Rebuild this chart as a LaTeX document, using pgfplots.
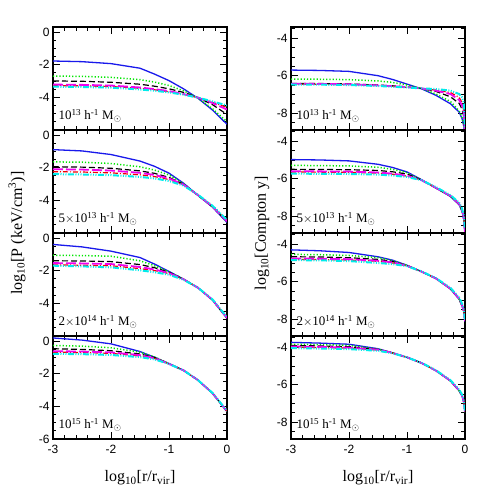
\documentclass[border=0pt]{standalone}
\usepackage{fontspec}
\setmainfont{Liberation Serif}
\setsansfont{Liberation Sans}
\usepackage{pgfplots}
\pgfplotsset{compat=1.18}

\definecolor{cblue}{RGB}{25,25,235}
\definecolor{cgreen}{RGB}{0,230,0}
\definecolor{cred}{RGB}{240,0,0}
\definecolor{cmag}{RGB}{240,0,240}
\definecolor{ccyan}{RGB}{0,235,235}

\pgfplotsset{
  pan/.style={
    scale only axis, width=174pt, height=103pt, anchor=south west,
    xmin=-3, xmax=0, xtick={-3,-2,-1,0}, xticklabels={},
    minor xtick={-2.8,-2.6,-2.4,-2.2,-1.8,-1.6,-1.4,-1.2,-0.8,-0.6,-0.4,-0.2},
    tick align=inside, major tick length=7pt, minor tick length=3.5pt,
    axis line style={line width=1.1pt},
    every tick/.style={black, line width=0.8pt},
    tick label style={font=\fontsize{12}{14}\sffamily},
    xticklabel style={yshift=-3pt},
    xtick pos=both, ytick pos=both,
  },
  lp/.style={pan, ymin=-6, ymax=0.3, ytick={-6,-4,-2,0}, yticklabels={,-4,-2,0},
    minor ytick={-5.5,-5,-4.5,-3.5,-3,-2.5,-1.5,-1,-0.5}},
  rp/.style={pan, ymin=-8.9, ymax=-3.4, ytick={-8,-6,-4}, yticklabels={-8,-6,-4},
    minor ytick={-8.5,-7.5,-7,-6.5,-5.5,-5,-4.5,-3.5}},
  bot/.style={xticklabels={-3,-2,-1,0}},
  sb/.style={cblue, line width=1.3pt, solid},
  sg/.style={cgreen, line width=1.5pt, dash pattern=on 1.2pt off 2pt},
  sk/.style={black, line width=1.2pt, dash pattern=on 6pt off 3pt},
  sr/.style={cred, line width=1.2pt, dash pattern=on 5pt off 2pt on 1pt off 2pt},
  sm/.style={cmag, line width=1.8pt, dash pattern=on 10pt off 3pt},
  sc/.style={ccyan, line width=2pt, dash pattern=on 6pt off 1.5pt on 1pt off 1.5pt on 1pt off 1.5pt on 1pt off 1.5pt},
}
\newcommand{\lab}[1]{\node[anchor=south west, font=\fontsize{13}{15}\selectfont, inner sep=1pt] at (rel axis cs:0.025,0.06) {#1};}

\begin{document}
\begin{tikzpicture}
\useasboundingbox (0,0) rectangle (491pt,491pt);

% ---------- left column: pressure ----------
\begin{axis}[lp, at={(53pt,361pt)}]
\addplot[sb] coordinates {(-3,-1.78) (-2.5,-1.82) (-2,-1.94) (-1.5,-2.22) (-1.25,-2.58) (-1,-2.98) (-0.75,-3.48) (-0.5,-4.06) (-0.25,-4.78) (0,-5.65)};
\addplot[sg] coordinates {(-3,-2.7) (-2.5,-2.72) (-2,-2.78) (-1.5,-2.92) (-1.25,-3.07) (-1,-3.28) (-0.75,-3.6) (-0.5,-4.05) (-0.25,-4.7) (0,-5.5)};
\addplot[sk] coordinates {(-3,-3.0) (-2.5,-3.02) (-2,-3.08) (-1.5,-3.2) (-1.25,-3.32) (-1,-3.48) (-0.75,-3.7) (-0.5,-4.02) (-0.25,-4.45) (0,-5.05)};
\addplot[sr] coordinates {(-3,-3.28) (-2.5,-3.3) (-2,-3.34) (-1.5,-3.45) (-1.25,-3.54) (-1,-3.66) (-0.75,-3.82) (-0.5,-4.02) (-0.25,-4.3) (0,-4.62)};
\addplot[sm] coordinates {(-3,-3.22) (-2.5,-3.24) (-2,-3.28) (-1.5,-3.4) (-1.25,-3.5) (-1,-3.62) (-0.75,-3.8) (-0.5,-4.02) (-0.25,-4.35) (0,-4.75)};
\addplot[sc] coordinates {(-3,-3.35) (-2.5,-3.37) (-2,-3.41) (-1.5,-3.52) (-1.25,-3.6) (-1,-3.7) (-0.75,-3.84) (-0.5,-4.02) (-0.25,-4.25) (0,-4.5)};
\lab{10\textsuperscript{13} h\textsuperscript{-1} M\textsubscript{$\odot$}}
\end{axis}

\begin{axis}[lp, at={(53pt,258pt)}]
\addplot[sb] coordinates {(-3,-0.9) (-2.5,-0.98) (-2,-1.2) (-1.5,-1.6) (-1.25,-1.92) (-1,-2.34) (-0.75,-2.95) (-0.5,-3.7) (-0.25,-4.42) (0,-5.35)};
\addplot[sg] coordinates {(-3,-1.65) (-2.5,-1.67) (-2,-1.75) (-1.5,-1.95) (-1.25,-2.15) (-1,-2.45) (-0.75,-2.98) (-0.5,-3.7) (-0.25,-4.4) (0,-5.3)};
\addplot[sk] coordinates {(-3,-1.95) (-2.5,-1.97) (-2,-2.04) (-1.5,-2.2) (-1.25,-2.35) (-1,-2.6) (-0.75,-3.02) (-0.5,-3.7) (-0.25,-4.4) (0,-5.3)};
\addplot[sr] coordinates {(-3,-2.25) (-2.5,-2.27) (-2,-2.32) (-1.5,-2.44) (-1.25,-2.55) (-1,-2.73) (-0.75,-3.06) (-0.5,-3.68) (-0.25,-4.36) (0,-5.25)};
\addplot[sm] coordinates {(-3,-2.1) (-2.5,-2.12) (-2,-2.18) (-1.5,-2.32) (-1.25,-2.45) (-1,-2.66) (-0.75,-3.04) (-0.5,-3.68) (-0.25,-4.38) (0,-5.28)};
\addplot[sc] coordinates {(-3,-2.4) (-2.5,-2.42) (-2,-2.46) (-1.5,-2.57) (-1.25,-2.66) (-1,-2.82) (-0.75,-3.1) (-0.5,-3.66) (-0.25,-4.33) (0,-5.2)};
\lab{5$\times$10\textsuperscript{13} h\textsuperscript{-1} M\textsubscript{$\odot$}}
\end{axis}

\begin{axis}[lp, at={(53pt,155pt)}]
\addplot[sb] coordinates {(-3,-0.4) (-2.5,-0.55) (-2,-0.81) (-1.5,-1.2) (-1.25,-1.6) (-1,-2.05) (-0.75,-2.52) (-0.5,-3.05) (-0.25,-3.8) (0,-4.92)};
\addplot[sg] coordinates {(-3,-1.06) (-2.5,-1.08) (-2,-1.12) (-1.5,-1.4) (-1.25,-1.7) (-1,-2.07) (-0.75,-2.52) (-0.5,-3.05) (-0.25,-3.8) (0,-4.9)};
\addplot[sk] coordinates {(-3,-1.4) (-2.5,-1.41) (-2,-1.45) (-1.5,-1.63) (-1.25,-1.82) (-1,-2.1) (-0.75,-2.53) (-0.5,-3.05) (-0.25,-3.8) (0,-4.9)};
\addplot[sr] coordinates {(-3,-1.65) (-2.5,-1.67) (-2,-1.7) (-1.5,-1.88) (-1.25,-2.0) (-1,-2.18) (-0.75,-2.54) (-0.5,-3.05) (-0.25,-3.78) (0,-4.88)};
\addplot[sm] coordinates {(-3,-1.54) (-2.5,-1.56) (-2,-1.6) (-1.5,-1.78) (-1.25,-1.93) (-1,-2.15) (-0.75,-2.53) (-0.5,-3.05) (-0.25,-3.79) (0,-4.89)};
\addplot[sc] coordinates {(-3,-1.7) (-2.5,-1.74) (-2,-1.8) (-1.5,-1.98) (-1.25,-2.1) (-1,-2.25) (-0.75,-2.56) (-0.5,-3.05) (-0.25,-3.76) (0,-4.85)};
\lab{2$\times$10\textsuperscript{14} h\textsuperscript{-1} M\textsubscript{$\odot$}}
\end{axis}

\begin{axis}[lp, bot, at={(53pt,52pt)}, yticklabels={-6,-4,-2,0}]
\addplot[sb] coordinates {(-3,0.18) (-2.5,0.05) (-2,-0.18) (-1.5,-0.65) (-1.25,-1.0) (-1,-1.39) (-0.75,-1.8) (-0.5,-2.4) (-0.25,-3.2) (0,-4.32)};
\addplot[sg] coordinates {(-3,-0.28) (-2.5,-0.32) (-2,-0.42) (-1.5,-0.69) (-1.25,-0.98) (-1,-1.39) (-0.75,-1.8) (-0.5,-2.4) (-0.25,-3.2) (0,-4.32)};
\addplot[sk] coordinates {(-3,-0.48) (-2.5,-0.52) (-2,-0.6) (-1.5,-0.8) (-1.25,-1.02) (-1,-1.39) (-0.75,-1.8) (-0.5,-2.4) (-0.25,-3.2) (0,-4.32)};
\addplot[sr] coordinates {(-3,-0.69) (-2.5,-0.71) (-2,-0.76) (-1.5,-0.92) (-1.25,-1.08) (-1,-1.4) (-0.75,-1.8) (-0.5,-2.4) (-0.25,-3.2) (0,-4.3)};
\addplot[sm] coordinates {(-3,-0.63) (-2.5,-0.65) (-2,-0.7) (-1.5,-0.87) (-1.25,-1.06) (-1,-1.4) (-0.75,-1.8) (-0.5,-2.4) (-0.25,-3.2) (0,-4.31)};
\addplot[sc] coordinates {(-3,-0.79) (-2.5,-0.81) (-2,-0.86) (-1.5,-0.99) (-1.25,-1.13) (-1,-1.41) (-0.75,-1.8) (-0.5,-2.4) (-0.25,-3.18) (0,-4.28)};
\lab{10\textsuperscript{15} h\textsuperscript{-1} M\textsubscript{$\odot$}}
\end{axis}

% ---------- right column: Compton y ----------
\begin{axis}[rp, at={(291pt,361pt)}]
\addplot[sb] coordinates {(-3,-5.7) (-2.5,-5.72) (-2,-5.77) (-1.5,-6.0) (-1.25,-6.2) (-1,-6.45) (-0.75,-6.7) (-0.5,-7.05) (-0.25,-7.5) (-0.1,-7.95) (-0.05,-8.3) (-0.02,-8.7) (0,-9.3)};
\addplot[sg] coordinates {(-3,-6.18) (-2.5,-6.19) (-2,-6.21) (-1.5,-6.28) (-1.25,-6.36) (-1,-6.5) (-0.75,-6.68) (-0.5,-6.98) (-0.25,-7.38) (-0.1,-7.88) (-0.05,-8.25) (-0.02,-8.65) (0,-9.3)};
\addplot[sk] coordinates {(-3,-6.41) (-2.5,-6.42) (-2,-6.44) (-1.5,-6.5) (-1.25,-6.54) (-1,-6.6) (-0.75,-6.68) (-0.5,-6.84) (-0.25,-7.13) (-0.1,-7.48) (-0.05,-7.8) (-0.02,-8.2) (0,-9.2)};
\addplot[sr] coordinates {(-3,-6.45) (-2.5,-6.46) (-2,-6.48) (-1.5,-6.53) (-1.25,-6.57) (-1,-6.62) (-0.75,-6.68) (-0.5,-6.77) (-0.25,-6.9) (-0.1,-7.16) (-0.05,-7.45) (-0.02,-7.9) (0,-9.1)};
\addplot[sm] coordinates {(-3,-6.43) (-2.5,-6.44) (-2,-6.46) (-1.5,-6.52) (-1.25,-6.56) (-1,-6.61) (-0.75,-6.68) (-0.5,-6.8) (-0.25,-6.98) (-0.1,-7.3) (-0.05,-7.6) (-0.02,-8.0) (0,-9.1)};
\addplot[sc] coordinates {(-3,-6.47) (-2.5,-6.48) (-2,-6.5) (-1.5,-6.55) (-1.25,-6.59) (-1,-6.63) (-0.75,-6.68) (-0.5,-6.71) (-0.25,-6.8) (-0.1,-6.98) (-0.05,-7.15) (-0.02,-7.5) (0,-8.8)};
\lab{10\textsuperscript{13} h\textsuperscript{-1} M\textsubscript{$\odot$}}
\end{axis}

\begin{axis}[rp, at={(291pt,258pt)}]
\addplot[sb] coordinates {(-3,-4.98) (-2.5,-5.0) (-2,-5.05) (-1.5,-5.23) (-1.25,-5.4) (-1,-5.64) (-0.75,-6.05) (-0.5,-6.5) (-0.25,-6.95) (-0.1,-7.4) (-0.05,-7.75) (-0.02,-8.2) (0,-8.9)};
\addplot[sg] coordinates {(-3,-5.29) (-2.5,-5.3) (-2,-5.32) (-1.5,-5.39) (-1.25,-5.5) (-1,-5.68) (-0.75,-6.07) (-0.5,-6.5) (-0.25,-6.94) (-0.1,-7.38) (-0.05,-7.72) (-0.02,-8.18) (0,-8.9)};
\addplot[sk] coordinates {(-3,-5.5) (-2.5,-5.51) (-2,-5.52) (-1.5,-5.56) (-1.25,-5.63) (-1,-5.75) (-0.75,-6.07) (-0.5,-6.5) (-0.25,-6.93) (-0.1,-7.36) (-0.05,-7.7) (-0.02,-8.15) (0,-8.85)};
\addplot[sr] coordinates {(-3,-5.64) (-2.5,-5.65) (-2,-5.66) (-1.5,-5.7) (-1.25,-5.76) (-1,-5.86) (-0.75,-6.08) (-0.5,-6.48) (-0.25,-6.91) (-0.1,-7.33) (-0.05,-7.66) (-0.02,-8.1) (0,-8.8)};
\addplot[sm] coordinates {(-3,-5.6) (-2.5,-5.61) (-2,-5.62) (-1.5,-5.67) (-1.25,-5.73) (-1,-5.84) (-0.75,-6.08) (-0.5,-6.49) (-0.25,-6.92) (-0.1,-7.35) (-0.05,-7.68) (-0.02,-8.12) (0,-8.85)};
\addplot[sc] coordinates {(-3,-5.73) (-2.5,-5.74) (-2,-5.75) (-1.5,-5.78) (-1.25,-5.83) (-1,-5.91) (-0.75,-6.08) (-0.5,-6.45) (-0.25,-6.88) (-0.1,-7.28) (-0.05,-7.6) (-0.02,-8.0) (0,-8.7)};
\lab{5$\times$10\textsuperscript{13} h\textsuperscript{-1} M\textsubscript{$\odot$}}
\end{axis}

\begin{axis}[rp, at={(291pt,155pt)}]
\addplot[sb] coordinates {(-3,-4.3) (-2.5,-4.35) (-2,-4.44) (-1.5,-4.67) (-1.25,-4.85) (-1,-5.12) (-0.75,-5.46) (-0.5,-5.83) (-0.25,-6.39) (-0.1,-6.94) (-0.05,-7.3) (-0.02,-7.6) (0,-8.15)};
\addplot[sg] coordinates {(-3,-4.54) (-2.5,-4.56) (-2,-4.6) (-1.5,-4.72) (-1.25,-4.88) (-1,-5.13) (-0.75,-5.46) (-0.5,-5.83) (-0.25,-6.39) (-0.1,-6.94) (-0.05,-7.3) (-0.02,-7.6) (0,-8.15)};
\addplot[sk] coordinates {(-3,-4.67) (-2.5,-4.68) (-2,-4.72) (-1.5,-4.81) (-1.25,-4.92) (-1,-5.14) (-0.75,-5.46) (-0.5,-5.83) (-0.25,-6.38) (-0.1,-6.92) (-0.05,-7.28) (-0.02,-7.58) (0,-8.12)};
\addplot[sr] coordinates {(-3,-4.81) (-2.5,-4.82) (-2,-4.84) (-1.5,-4.91) (-1.25,-5.0) (-1,-5.16) (-0.75,-5.46) (-0.5,-5.83) (-0.25,-6.37) (-0.1,-6.9) (-0.05,-7.25) (-0.02,-7.55) (0,-8.1)};
\addplot[sm] coordinates {(-3,-4.76) (-2.5,-4.77) (-2,-4.8) (-1.5,-4.88) (-1.25,-4.97) (-1,-5.15) (-0.75,-5.46) (-0.5,-5.83) (-0.25,-6.37) (-0.1,-6.91) (-0.05,-7.26) (-0.02,-7.56) (0,-8.1)};
\addplot[sc] coordinates {(-3,-4.85) (-2.5,-4.86) (-2,-4.9) (-1.5,-5.0) (-1.25,-5.06) (-1,-5.17) (-0.75,-5.45) (-0.5,-5.81) (-0.25,-6.33) (-0.1,-6.85) (-0.05,-7.18) (-0.02,-7.5) (0,-8.05)};
\lab{2$\times$10\textsuperscript{14} h\textsuperscript{-1} M\textsubscript{$\odot$}}
\end{axis}

\begin{axis}[rp, bot, at={(291pt,52pt)}]
\addplot[sb] coordinates {(-3,-3.74) (-2.5,-3.78) (-2,-3.84) (-1.5,-4.08) (-1.25,-4.3) (-1,-4.54) (-0.75,-4.84) (-0.5,-5.25) (-0.25,-5.8) (-0.1,-6.33) (-0.05,-6.6) (-0.02,-6.95) (0,-7.47)};
\addplot[sg] coordinates {(-3,-3.84) (-2.5,-3.86) (-2,-3.9) (-1.5,-4.1) (-1.25,-4.3) (-1,-4.54) (-0.75,-4.84) (-0.5,-5.25) (-0.25,-5.8) (-0.1,-6.33) (-0.05,-6.6) (-0.02,-6.95) (0,-7.47)};
\addplot[sk] coordinates {(-3,-3.91) (-2.5,-3.93) (-2,-3.97) (-1.5,-4.12) (-1.25,-4.3) (-1,-4.54) (-0.75,-4.84) (-0.5,-5.25) (-0.25,-5.8) (-0.1,-6.32) (-0.05,-6.59) (-0.02,-6.94) (0,-7.45)};
\addplot[sr] coordinates {(-3,-4.0) (-2.5,-4.02) (-2,-4.05) (-1.5,-4.15) (-1.25,-4.31) (-1,-4.54) (-0.75,-4.84) (-0.5,-5.25) (-0.25,-5.79) (-0.1,-6.31) (-0.05,-6.58) (-0.02,-6.92) (0,-7.43)};
\addplot[sm] coordinates {(-3,-3.96) (-2.5,-3.98) (-2,-4.02) (-1.5,-4.13) (-1.25,-4.3) (-1,-4.54) (-0.75,-4.84) (-0.5,-5.25) (-0.25,-5.79) (-0.1,-6.31) (-0.05,-6.58) (-0.02,-6.93) (0,-7.44)};
\addplot[sc] coordinates {(-3,-4.05) (-2.5,-4.07) (-2,-4.1) (-1.5,-4.19) (-1.25,-4.32) (-1,-4.54) (-0.75,-4.83) (-0.5,-5.23) (-0.25,-5.76) (-0.1,-6.27) (-0.05,-6.53) (-0.02,-6.88) (0,-7.4)};
\lab{10\textsuperscript{15} h\textsuperscript{-1} M\textsubscript{$\odot$}}
\end{axis}

% axis titles
\node[rotate=90, font=\fontsize{16}{18}\selectfont] at (17pt,258pt) {log\textsubscript{10}[P (keV/cm\textsuperscript{3})]};
\node[rotate=90, font=\fontsize{16}{18}\selectfont] at (262pt,258pt) {log\textsubscript{10}[Compton y]};
\node[font=\fontsize{16}{18}\selectfont] at (140pt,13pt) {log\textsubscript{10}[r/r\textsubscript{vir}]};
\node[font=\fontsize{16}{18}\selectfont] at (378pt,13pt) {log\textsubscript{10}[r/r\textsubscript{vir}]};
\end{tikzpicture}
\end{document}
